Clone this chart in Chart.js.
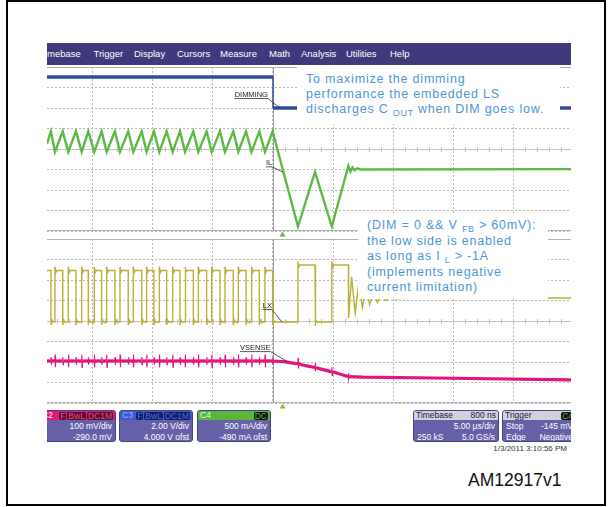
<!DOCTYPE html>
<html>
<head>
<meta charset="utf-8">
<script src="https://cdn.jsdelivr.net/npm/chart.js@4.4.1/dist/chart.umd.min.js"></script>
<style>
  body { margin: 0; width: 612px; height: 507px; background: #fff; position: relative; overflow: hidden;
         font-family: 'Liberation Sans', Arial, sans-serif; }
  .abs { position: absolute; }
  #frame { left: 6px; top: 0; width: 600px; height: 506px; border: 2px solid #000; box-sizing: border-box; }
  #screen { left: 47px; top: 43px; width: 524px; height: 402px; overflow: hidden; }
  #menu { left: 0; top: 0; width: 524px; height: 22px; background: #3e3a7b; color: #fff; font-size: 9.5px; line-height: 22px; }
  #menu span { position: absolute; top: 0; }
  canvas { position: absolute; left: 0; }
  .note { position: absolute; background: #fff; color: #4d95d8; font-size: 12.5px; letter-spacing: 0.8px;
          box-sizing: border-box; padding-left: 9px; white-space: nowrap; }
  .note .sub { font-size: 9px; position: relative; top: 3px; letter-spacing: 0.6px; }
  .box { position: absolute; top: 367px; height: 32px; background: #6560a8; border: 1px solid #47428c;
         border-radius: 3px; box-sizing: border-box; color: #fff; font-size: 8.5px; line-height: 10px; overflow: hidden; }
  .box .hd { height: 9px; line-height: 9px; display: flex; align-items: center; padding: 0 2px; }
  .box .r { height: 10px; margin-top: 1px; padding: 0 3px; display: flex; justify-content: space-between; }
  .box .r.end { justify-content: flex-end; }
  .bd { font-weight: normal; border-radius: 2px; padding: 0 1px; margin-left: 1px; line-height: 8px; }
  .grey { background: #d2d2da; color: #1b1b3a; }
</style>
</head>
<body>
<div id="frame" class="abs"></div>

<div id="screen" class="abs">
  <div id="menu" class="abs">
    <span style="left:-7.5px">Timebase</span>
    <span style="left:46.5px">Trigger</span>
    <span style="left:87px">Display</span>
    <span style="left:130px">Cursors</span>
    <span style="left:173px">Measure</span>
    <span style="left:222px">Math</span>
    <span style="left:254px">Analysis</span>
    <span style="left:299px">Utilities</span>
    <span style="left:343px">Help</span>
  </div>

  <canvas id="topGrid" width="524" height="172" style="top:24px"></canvas>
  <canvas id="bottomGrid" width="524" height="171" style="top:196px"></canvas>

  <div class="note" style="left:250px;top:23px;width:263px;height:58px;padding-top:6px;line-height:15px">
    To maximize the dimming<br>
    performance the embedded LS<br>
    discharges C <span class="sub">OUT</span> when DIM goes low.
  </div>
  <div class="note" style="left:311px;top:171px;width:190px;height:85px;padding-top:3.5px;line-height:15.2px">
    (DIM = 0 &amp;&amp; V <span class="sub">FB</span> &gt; 60mV):<br>
    the low side is enabled<br>
    as long as I <span class="sub">L</span> &gt; -1A<br>
    (implements negative<br>
    current limitation)
  </div>

  <div class="box" style="left:-8px;width:77px">
    <div class="hd" style="background:#e2197c"><span>C2</span>
      <b class="bd" style="background:#5c0b2c;color:#e5508e;margin-left:auto">F</b>
      <b class="bd" style="background:#5c0b2c;color:#e5508e">BwL</b>
      <b class="bd" style="background:#5c0b2c;color:#e5508e">DC1M</b></div>
    <div class="r end">100 mV/div</div>
    <div class="r end">-290.0 mV</div>
  </div>
  <div class="box" style="left:72px;width:74px">
    <div class="hd" style="background:#3b5bd0"><span style="color:#9fb2f0">C3</span>
      <b class="bd" style="background:#141c5e;color:#4a6ee0;margin-left:auto">F</b>
      <b class="bd" style="background:#141c5e;color:#4a6ee0">BwL</b>
      <b class="bd" style="background:#141c5e;color:#4a6ee0">DC1M</b></div>
    <div class="r end">2.00 V/div</div>
    <div class="r end">4.000 V ofst</div>
  </div>
  <div class="box" style="left:150px;width:74px">
    <div class="hd" style="background:#5ab638"><span style="color:#e8f5e0">C4</span>
      <b class="bd" style="background:#111;color:#5ab638;margin-left:auto">DC</b></div>
    <div class="r end">500 mA/div</div>
    <div class="r end">-490 mA ofst</div>
  </div>
  <div class="box" style="left:366px;width:86px">
    <div class="hd grey"><span>Timebase</span><span style="margin-left:auto">800 ns</span></div>
    <div class="r end">5.00 µs/div</div>
    <div class="r"><span>250 kS</span><span>5.0 GS/s</span></div>
  </div>
  <div class="box" style="left:455px;width:75px">
    <div class="hd grey"><span>Trigger</span>
      <b class="bd" style="background:#111;color:#5ab638;margin-left:auto">C4</b></div>
    <div class="r"><span>Stop</span><span>-145 mV</span></div>
    <div class="r"><span>Edge</span><span>Negative</span></div>
  </div>
</div>

<div class="abs" style="left:470px;top:444px;width:97px;text-align:right;font-size:8px;color:#333">1/3/2011 3:10:56 PM</div>
<div class="abs" style="left:468px;top:470px;font-size:17.5px;line-height:20px;color:#111">AM12917v1</div>

<script>
// time axis in µs, 5 µs/div, trigger at 0
const timeRange = [-18.83, 24.83];
const timeDivs = [-15, -10, -5, 0, 5, 10, 15, 20];
const gridDivs = [-4, 4];
const triggerDelay = 0.8;

// [units per div, offset] from the channel readouts (C1 readout is cut off)
const c1Setting = [2.0, 0.0];
const c2Setting = [0.1, -0.29];
const c3Setting = [2.0, 4.0];
const c4Setting = [0.5, -0.49];

const traceNames = ['DIMMING', 'IL', 'LX', 'VSENSE'];

// LX switching edges while DIM is high (µs)
const lxRiseTimes = [-18.17, -17.06, -15.94, -14.89, -13.86, -12.75, -11.64, -10.53, -9.47,
                     -8.36, -7.33, -6.22, -5.11, -4.00, -2.89, -1.78, -0.67];
const lxFallTimes = [-18.50, -17.52, -16.42, -15.39, -14.28, -13.17, -12.06, -10.94, -9.92,
                     -8.86, -7.75, -6.64, -5.53, -4.42, -3.31, -2.25, -1.14, -0.03];

// levels (V / A)
const dimTimes = [-18.83, 0, 0, 24.83];
const dimValues = [3.02, 3.02, 0.0, 0.0];
const lxLevels = [4.92, 5.3, -0.1, -0.4];       // high, overshoot, low, undershoot
const ilLevels = [0.92, 0.42, 0.62];            // peak, valley, start
const vsLevels = [0.095, 0.03];                 // base, spike

// after DIM goes low
const lxAfterT = [2.08, 2.08, 2.16, 2.24, 3.5, 3.5, 3.58, 3.66, 4.9, 4.9, 4.98, 5.06, 6.28, 6.3,
                  6.55, 6.85, 7.15, 7.45, 7.75, 8.05, 8.35, 8.7, 9.0, 9.4, 9.8, 10.3, 11.0, 24.83];
const lxAfterV = [-0.1, 5.8, 5.3, 5.46, 5.46, -0.5, 0.1, -0.1, -0.1, 5.8, 5.3, 5.46, 5.46, 0.3,
                  4.3, 0.8, 3.7, 1.3, 3.2, 1.6, 2.8, 1.8, 2.6, 2.0, 2.4, 2.15, 2.28, 2.24];
const ilAfterT = [2.08, 3.5, 4.9, 6.28, 6.45, 6.62, 6.8, 7.0, 7.3, 24.83];
const ilAfterV = [-1.40, -0.07, -1.40, 0.075, -0.06, 0.04, -0.03, 0.02, -0.01, 0.0];
const vsAfterT = [0.9, 1.8, 2.08, 2.09, 2.11, 2.14, 2.7, 3.5, 3.51, 3.53, 3.56, 3.7, 4.9, 4.91,
                  4.93, 4.96, 6.1, 6.28, 6.29, 6.31, 6.34, 7.5, 13.5, 24.83];
const vsAfterV = [0.092, 0.083, 0.082, 0.11, 0.058, 0.081, 0.072, 0.063, 0.085, 0.045, 0.062, 0.060,
                  0.042, 0.065, 0.025, 0.042, 0.022, 0.020, 0.035, 0.008, 0.019, 0.016, 0.012, 0.003];

const zip = (ts, vs) => ts.map((t, i) => ({ x: t, y: vs[i] }));

function switchingEdges() {
    return lxFallTimes.map(t => ({ t, rise: false }))
        .concat(lxRiseTimes.map(t => ({ t, rise: true })))
        .sort((a, b) => a.t - b.t);
}

function buildLx() {
    const [hi, over, lo, under] = lxLevels;
    const pts = [{ x: timeRange[0], y: hi }];
    switchingEdges().forEach(e => {
        if (e.rise) {
            pts.push({ x: e.t, y: lo }, { x: e.t, y: over }, { x: e.t + 0.08, y: hi - 0.2 }, { x: e.t + 0.16, y: hi });
        } else {
            pts.push({ x: e.t, y: hi }, { x: e.t, y: under }, { x: e.t + 0.08, y: lo + 0.2 }, { x: e.t + 0.16, y: lo });
        }
    });
    return pts.concat(zip(lxAfterT, lxAfterV));
}

function buildIl() {
    const [peak, valley, start] = ilLevels;
    const pts = [{ x: timeRange[0], y: start }];
    switchingEdges().forEach(e => pts.push({ x: e.t, y: e.rise ? valley : peak }));
    return pts.concat(zip(ilAfterT, ilAfterV));
}

function buildVs() {
    const [base, spike] = vsLevels;
    const pts = [{ x: timeRange[0], y: base }];
    switchingEdges().forEach(e => {
        const h = e.rise ? spike : spike * 0.6;
        pts.push({ x: e.t, y: base }, { x: e.t + 0.01, y: base + h }, { x: e.t + 0.03, y: base - h }, { x: e.t + 0.06, y: base });
    });
    pts.push({ x: 0, y: base });
    return pts.concat(zip(vsAfterT, vsAfterV));
}

// thin line on vertical edges, thick band elsewhere
const edgeWidth = (thick, thin) => ctx =>
    Math.abs(ctx.p1.parsed.x - ctx.p0.parsed.x) < 0.05 ? thin : thick;

function channelAxis(setting) {
    const [perDiv, ofst] = setting;
    return { type: 'linear', display: false, min: gridDivs[0] * perDiv - ofst, max: gridDivs[1] * perDiv - ofst };
}

// graticule extras: solid edges, centre line with minor ticks, trigger line, delay marker
const scopeFrame = {
    id: 'scopeFrame',
    beforeDatasetsDraw(chart, args, opts) {
        const { ctx, chartArea: a, scales: { x, y } } = chart;
        const px = v => Math.round(x.getPixelForValue(v)) + 0.5;
        const yc = Math.round(y.getPixelForValue(0)) + 0.5;
        ctx.save();
        ctx.lineWidth = 1;
        ctx.strokeStyle = '#b4b4b4';
        ctx.beginPath();
        ctx.moveTo(a.left, a.top + 0.5); ctx.lineTo(a.right, a.top + 0.5);
        ctx.moveTo(a.left, a.bottom - 0.5); ctx.lineTo(a.right, a.bottom - 0.5);
        ctx.stroke();

        ctx.strokeStyle = '#c2c2c2';
        ctx.beginPath();
        ctx.moveTo(a.left, yc); ctx.lineTo(a.right, yc);
        for (let t = Math.ceil(x.min); t <= x.max; t++) {
            ctx.moveTo(px(t), yc - 2.5); ctx.lineTo(px(t), yc + 2.5);
        }
        ctx.stroke();

        ctx.strokeStyle = '#9c9c9c';
        ctx.beginPath();
        ctx.moveTo(px(0), a.top); ctx.lineTo(px(0), a.bottom);
        ctx.stroke();

        const mx = x.getPixelForValue(triggerDelay);
        ctx.fillStyle = opts.markerColor;
        ctx.beginPath();
        ctx.moveTo(mx, a.bottom + 0.5);
        ctx.lineTo(mx + 3, a.bottom + 5.5);
        ctx.lineTo(mx - 3, a.bottom + 5.5);
        ctx.closePath();
        ctx.fill();
        ctx.restore();
    }
};

// underlined trace names with a leader line to the trace
const traceLabels = {
    id: 'traceLabels',
    afterDatasetsDraw(chart, args, opts) {
        const { ctx, scales } = chart;
        ctx.save();
        ctx.font = '7.5px "Liberation Sans", Arial, sans-serif';
        ctx.fillStyle = '#222';
        ctx.strokeStyle = '#333';
        ctx.lineWidth = 0.8;
        ctx.textAlign = 'right';
        (opts.items || []).forEach(it => {
            const ax = scales.x.getPixelForValue(it.t);
            const ay = scales[it.axis].getPixelForValue(it.v);
            const right = ax + it.dx, base = ay + it.dy;
            const w = ctx.measureText(it.text).width;
            ctx.fillText(it.text, right, base);
            ctx.beginPath();
            ctx.moveTo(right - w, base + 1.5);
            ctx.lineTo(right, base + 1.5);
            ctx.lineTo(ax, ay);
            ctx.stroke();
        });
        ctx.restore();
    }
};

function scopeOptions(channelAxes, bottomPad, markerColor, labels) {
    return {
        responsive: false,
        animation: false,
        events: [],
        layout: { padding: { left: 0, right: 0, top: 0, bottom: bottomPad } },
        elements: { point: { radius: 0 }, line: { tension: 0 } },
        plugins: {
            legend: { display: false },
            tooltip: { enabled: false },
            scopeFrame: { markerColor },
            traceLabels: { items: labels }
        },
        scales: Object.assign({
            x: {
                type: 'linear', min: timeRange[0], max: timeRange[1],
                afterBuildTicks: s => { s.ticks = timeDivs.map(v => ({ value: v })); },
                ticks: { display: false },
                grid: { color: '#b6b6b6', drawTicks: false },
                border: { display: false, dash: [2, 2] }
            },
            y: {
                type: 'linear', min: gridDivs[0], max: gridDivs[1],
                ticks: { display: false, stepSize: 1 },
                grid: { color: '#b6b6b6', drawTicks: false },
                border: { display: false, dash: [2, 2] }
            }
        }, channelAxes)
    };
}

new Chart(document.getElementById('topGrid'), {
    type: 'line',
    data: {
        datasets: [
            { label: traceNames[0], data: zip(dimTimes, dimValues), yAxisID: 'yDim',
              borderColor: '#2c4d9e', borderWidth: 3.5, segment: { borderWidth: edgeWidth(3.5, 1.4) } },
            { label: traceNames[1], data: buildIl(), yAxisID: 'yIL',
              borderColor: '#5cb946', borderWidth: 2.4 }
        ]
    },
    options: scopeOptions(
        { yDim: channelAxis(c3Setting), yIL: channelAxis(c4Setting) }, 8, '#5cb946',
        [
            { text: traceNames[0], t: 0.58, v: 0.0, axis: 'yDim', dx: -12, dy: -11 },
            { text: traceNames[1], t: 0.85, v: -0.08, axis: 'yIL', dx: -11, dy: -7 }
        ])
    ,
    plugins: [scopeFrame, traceLabels]
});

new Chart(document.getElementById('bottomGrid'), {
    type: 'line',
    data: {
        datasets: [
            { label: traceNames[2], data: buildLx(), yAxisID: 'yLX',
              borderColor: '#b9b03a', borderWidth: 1.4 },
            { label: traceNames[3], data: buildVs(), yAxisID: 'yVS',
              borderColor: '#e3167f', borderWidth: 3.2, segment: { borderWidth: edgeWidth(3.2, 1.2) } }
        ]
    },
    options: scopeOptions(
        { yLX: channelAxis(c1Setting), yVS: channelAxis(c2Setting) }, 7, '#b5aa2c',
        [
            { text: traceNames[2], t: 0.75, v: -0.1, axis: 'yLX', dx: -10, dy: -14 },
            { text: traceNames[3], t: 1.2, v: 0.092, axis: 'yVS', dx: -17, dy: -11.5 }
        ]),
    plugins: [scopeFrame, traceLabels]
});
</script>
</body>
</html>
